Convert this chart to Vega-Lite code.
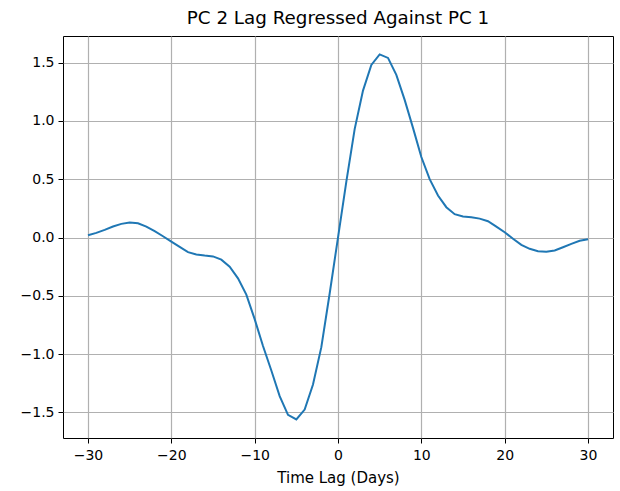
{
  "$schema": "https://vega.github.io/schema/vega-lite/v6.json",
  "width": 550,
  "height": 402,
  "autosize": "none",
  "padding": {"left": 63, "top": 36, "right": 7, "bottom": 53},
  "background": "white",
  "title": {"text": "PC 2 Lag Regressed Against PC 1", "fontSize": 18.3, "font": "DejaVu Sans", "fontWeight": "normal", "color": "black", "anchor": "middle", "offset": 8},
  "data": {"values": [
    {"lag": -30, "value": 0.02}, {"lag": -29, "value": 0.04}, {"lag": -28, "value": 0.066}, {"lag": -27, "value": 0.094},
    {"lag": -26, "value": 0.117}, {"lag": -25, "value": 0.128}, {"lag": -24, "value": 0.122}, {"lag": -23, "value": 0.094},
    {"lag": -22, "value": 0.054}, {"lag": -21, "value": 0.011}, {"lag": -20, "value": -0.035}, {"lag": -19, "value": -0.08},
    {"lag": -18, "value": -0.125}, {"lag": -17, "value": -0.145}, {"lag": -16, "value": -0.155}, {"lag": -15, "value": -0.162},
    {"lag": -14, "value": -0.19}, {"lag": -13, "value": -0.25}, {"lag": -12, "value": -0.35}, {"lag": -11, "value": -0.49},
    {"lag": -10, "value": -0.7}, {"lag": -9, "value": -0.93}, {"lag": -8, "value": -1.14}, {"lag": -7, "value": -1.36},
    {"lag": -6, "value": -1.52}, {"lag": -5, "value": -1.56}, {"lag": -4, "value": -1.475}, {"lag": -3, "value": -1.26},
    {"lag": -2, "value": -0.94}, {"lag": -1, "value": -0.48}, {"lag": 0, "value": 0.0}, {"lag": 1, "value": 0.48},
    {"lag": 2, "value": 0.93}, {"lag": 3, "value": 1.26}, {"lag": 4, "value": 1.48}, {"lag": 5, "value": 1.57},
    {"lag": 6, "value": 1.54}, {"lag": 7, "value": 1.395}, {"lag": 8, "value": 1.18}, {"lag": 9, "value": 0.94},
    {"lag": 10, "value": 0.69}, {"lag": 11, "value": 0.5}, {"lag": 12, "value": 0.36}, {"lag": 13, "value": 0.26},
    {"lag": 14, "value": 0.2}, {"lag": 15, "value": 0.18}, {"lag": 16, "value": 0.173}, {"lag": 17, "value": 0.162},
    {"lag": 18, "value": 0.14}, {"lag": 19, "value": 0.094}, {"lag": 20, "value": 0.045}, {"lag": 21, "value": -0.01},
    {"lag": 22, "value": -0.063}, {"lag": 23, "value": -0.097}, {"lag": 24, "value": -0.117}, {"lag": 25, "value": -0.122},
    {"lag": 26, "value": -0.111}, {"lag": 27, "value": -0.083}, {"lag": 28, "value": -0.054}, {"lag": 29, "value": -0.028},
    {"lag": 30, "value": -0.015}
  ]},
  "mark": {"type": "line", "color": "#1f77b4", "strokeWidth": 2},
  "encoding": {
    "x": {"field": "lag", "type": "quantitative", "scale": {"domain": [-33, 33], "nice": false, "zero": false},
          "axis": {"title": "Time Lag (Days)", "values": [-30, -20, -10, 0, 10, 20, 30], "format": "d", "labelPadding": 5, "titlePadding": 8}},
    "y": {"field": "value", "type": "quantitative", "scale": {"domain": [-1.719, 1.728], "nice": false, "zero": false},
          "axis": {"title": null, "values": [-1.5, -1.0, -0.5, 0.0, 0.5, 1.0, 1.5], "format": ".1f"}}
  },
  "config": {
    "view": {"stroke": "black", "strokeWidth": 1},
    "axis": {"domain": false, "grid": true, "gridColor": "#b0b0b0", "gridWidth": 1.2, "tickColor": "black", "tickSize": 5,
             "labelFont": "DejaVu Sans", "labelFontSize": 14, "labelColor": "black", "labelPadding": 4,
             "titleFont": "DejaVu Sans", "titleFontSize": 15, "titleFontWeight": "normal", "titleColor": "black", "titlePadding": 4}
  }
}
